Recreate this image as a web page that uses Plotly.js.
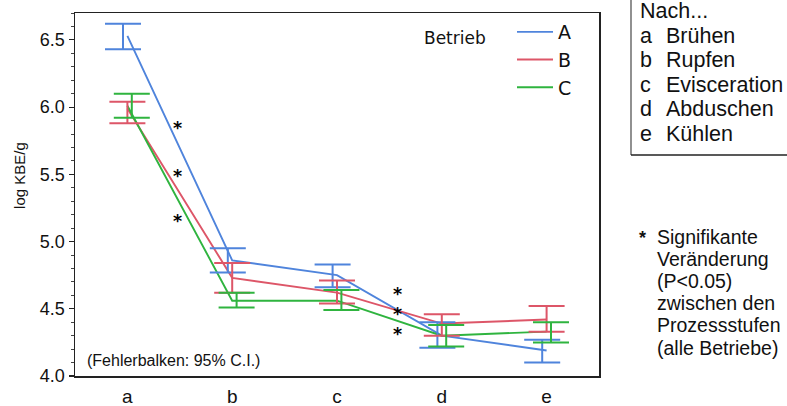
<!DOCTYPE html>
<html>
<head>
<meta charset="utf-8">
<script src="https://cdn.plot.ly/plotly-3.0.1.min.js"></script>
<style>html,body{margin:0;padding:0;background:#fff;}#chart{width:787px;height:406px;}</style>
</head>
<body>
<div id="chart"></div>
<script>
// ---- data ----
const categories = ['a', 'b', 'c', 'd', 'e'];
const seriesNames = ['A', 'B', 'C'];
const meanA = [6.53, 4.86, 4.75, 4.30, 4.19];
const lowA  = [6.43, 4.77, 4.66, 4.21, 4.10];
const highA = [6.62, 4.95, 4.83, 4.40, 4.27];
const meanB = [5.99, 4.73, 4.62, 4.39, 4.42];
const lowB  = [5.88, 4.62, 4.54, 4.30, 4.33];
const highB = [6.04, 4.84, 4.71, 4.46, 4.52];
const meanC = [6.01, 4.56, 4.56, 4.30, 4.33];
const lowC  = [5.92, 4.51, 4.49, 4.22, 4.25];
const highC = [6.10, 4.62, 4.64, 4.38, 4.40];
const stepLabels = ['Brühen', 'Rupfen', 'Evisceration', 'Abduschen', 'Kühlen'];
const noteLines = ['Signifikante', 'Veränderung', '(P<0.05)', 'zwischen den', 'Prozessstufen', '(alle Betriebe)'];

// ---- styling ----
const colors = ['#4F84DC', '#DD5668', '#2FB43F'];
const dodge = [-0.042, 0, 0.042];
const means = [meanA, meanB, meanC];
const lows = [lowA, lowB, lowC];
const highs = [highA, highB, highC];
const idx = categories.map((c, i) => i);

const traces = [];
seriesNames.forEach((name, s) => {
  traces.push({
    type: 'scatter', mode: 'lines', name: name,
    x: idx, y: means[s],
    line: {color: colors[s], width: 1.9},
    showlegend: true
  });
});
seriesNames.forEach((name, s) => {
  traces.push({
    type: 'scatter', mode: 'markers', name: name + ' CI',
    x: idx.map(i => i + dodge[s]), y: means[s],
    marker: {size: 1, opacity: 0, color: colors[s]},
    error_y: {
      type: 'data', symmetric: false,
      array: highs[s].map((h, i) => h - means[s][i]),
      arrayminus: lows[s].map((l, i) => means[s][i] - l),
      color: colors[s], thickness: 2, width: 18
    },
    showlegend: false
  });
});

const F = 'Arial, "Liberation Sans", sans-serif';
const annotations = [];
annotations.push({xref: 'paper', yref: 'paper', x: -0.105, y: 0.554, text: 'log KBE/g', textangle: -90,
  showarrow: false, font: {family: F, size: 15, color: '#111'}, xanchor: 'center', yanchor: 'middle'});
annotations.push({xref: 'paper', yref: 'paper', x: 0.02, y: 0.044, text: '(Fehlerbalken: 95% C.I.)',
  showarrow: false, font: {family: F, size: 16, color: '#111'}, xanchor: 'left', yanchor: 'middle'});
annotations.push({xref: 'paper', yref: 'paper', x: 0.725, y: 0.930, text: 'Betrieb',
  showarrow: false, font: {family: '"DejaVu Sans", sans-serif', size: 17, color: '#111'}, xanchor: 'center', yanchor: 'middle'});

// significance asterisks (between stages a-b and c-d)
const starX = [0.477, 0.477, 0.477, 2.578, 2.578, 2.578];
const starY = [5.872, 5.516, 5.181, 4.639, 4.49, 4.342];
starX.forEach((x, i) => annotations.push({xref: 'x', yref: 'y', x: x, y: starY[i], text: '<b>*</b>', yshift: -4,
  showarrow: false, font: {family: '"DejaVu Sans", sans-serif', size: 17.5, color: '#000'}, xanchor: 'center', yanchor: 'middle'}));

// right-hand key panel
const px = v => (v - 75) / 524;     // pixel -> paper x
const py = v => (376 - v) / 363;    // pixel -> paper y
const PF = 21.5;
annotations.push({xref: 'paper', yref: 'paper', x: px(638), y: py(11), text: 'Nach...',
  showarrow: false, font: {family: F, size: PF, color: '#111'}, xanchor: 'left', yanchor: 'middle'});
categories.forEach((c, i) => {
  const yy = py(35.5 + i * 24.6);
  annotations.push({xref: 'paper', yref: 'paper', x: px(638), y: yy, text: c,
    showarrow: false, font: {family: F, size: PF, color: '#111'}, xanchor: 'left', yanchor: 'middle'});
  annotations.push({xref: 'paper', yref: 'paper', x: px(664), y: yy, text: stepLabels[i],
    showarrow: false, font: {family: F, size: PF, color: '#111'}, xanchor: 'left', yanchor: 'middle'});
});
annotations.push({xref: 'paper', yref: 'paper', x: px(642), y: py(234), text: '<b>*</b>', yshift: -4,
  showarrow: false, font: {family: F, size: 18, color: '#111'}, xanchor: 'center', yanchor: 'middle'});
noteLines.forEach((t, i) => annotations.push({xref: 'paper', yref: 'paper', x: px(655), y: py(236.5 + i * 22.2), text: t,
  showarrow: false, font: {family: F, size: 19.5, color: '#111'}, xanchor: 'left', yanchor: 'middle'}));

const shapes = [
  {type: 'line', xref: 'paper', yref: 'paper', x0: px(631), x1: px(631), y0: py(155), y1: py(-5), line: {color: '#555', width: 1.3}},
  {type: 'line', xref: 'paper', yref: 'paper', x0: px(631), x1: px(800), y0: py(155), y1: py(155), line: {color: '#222', width: 1.5}}
];

const layout = {
  width: 787, height: 406,
  margin: {l: 75, r: 188, t: 13, b: 30, pad: 0},
  paper_bgcolor: '#fff', plot_bgcolor: '#fff',
  showlegend: true,
  legend: {x: px(512), y: py(13), xanchor: 'left', yanchor: 'top', bgcolor: 'rgba(0,0,0,0)',
    itemwidth: 36,
    font: {family: '"DejaVu Sans", sans-serif', size: 19, color: '#111'}, borderwidth: 0},
  xaxis: {
    range: [-0.5, 4.5], tickmode: 'array', tickvals: idx, ticktext: categories,
    ticks: '', showgrid: false, zeroline: false, showline: true, mirror: true,
    linecolor: '#222', linewidth: 1.5, ticklabelstandoff: 3,
    tickfont: {family: F, size: 19, color: '#111'}
  },
  yaxis: {
    range: [4.0, 6.7], tick0: 4, dtick: 0.5, tickformat: '.1f',
    ticks: 'outside', ticklen: 5, tickwidth: 1.2, tickcolor: '#222',
    minor: {dtick: 0.1, ticks: 'outside', ticklen: 3, tickwidth: 1, tickcolor: '#444', showgrid: false},
    showgrid: false, zeroline: false, showline: true, mirror: true,
    linecolor: '#222', linewidth: 1.5,
    tickfont: {family: F, size: 18, color: '#111'}
  },
  annotations: annotations,
  shapes: shapes
};

Plotly.newPlot('chart', traces, layout, {displayModeBar: false, staticPlot: true});
</script>
</body>
</html>
